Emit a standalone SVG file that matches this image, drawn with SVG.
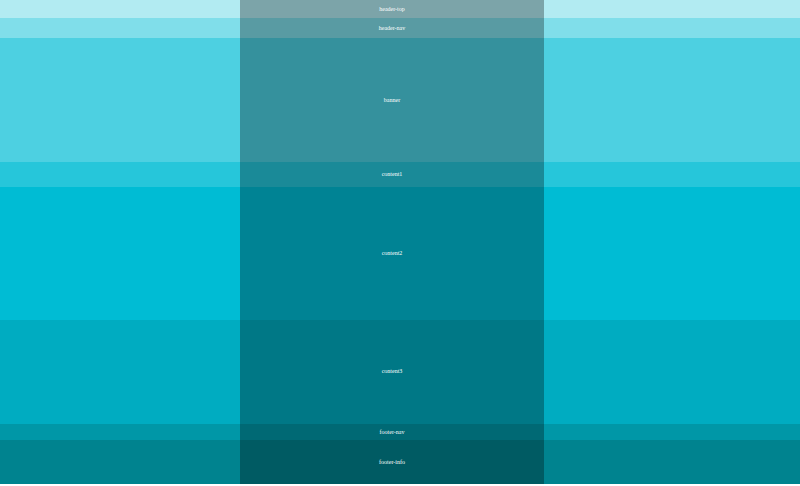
<svg xmlns="http://www.w3.org/2000/svg" width="800" height="486" viewBox="0 0 800 486">
<style>
.col{fill:#000;fill-opacity:0.3}
.lbl{font-family:"Liberation Serif",serif;font-size:6px;fill:#fff;text-anchor:middle;dominant-baseline:central}
</style>
<rect width="800" height="486" fill="#ffffff"/>
<g id="header-top"><rect x="0" y="0" width="800" height="18" fill="#b2ebf2"/><rect class="col" x="240" y="0" width="304" height="18"/><text class="lbl" x="392" y="9">header-top</text></g>
<g id="header-nav"><rect x="0" y="18" width="800" height="20" fill="#80deea"/><rect class="col" x="240" y="18" width="304" height="20"/><text class="lbl" x="392" y="28">header-nav</text></g>
<g id="banner"><rect x="0" y="38" width="800" height="124" fill="#4dd0e1"/><rect class="col" x="240" y="38" width="304" height="124"/><text class="lbl" x="392" y="100">banner</text></g>
<g id="content1"><rect x="0" y="162" width="800" height="25" fill="#26c6da"/><rect class="col" x="240" y="162" width="304" height="25"/><text class="lbl" x="392" y="174">content1</text></g>
<g id="content2"><rect x="0" y="187" width="800" height="133" fill="#00bcd4"/><rect class="col" x="240" y="187" width="304" height="133"/><text class="lbl" x="392" y="253">content2</text></g>
<g id="content3"><rect x="0" y="320" width="800" height="104" fill="#00acc1"/><rect class="col" x="240" y="320" width="304" height="104"/><text class="lbl" x="392" y="371">content3</text></g>
<g id="footer-nav"><rect x="0" y="424" width="800" height="16" fill="#0097a7"/><rect class="col" x="240" y="424" width="304" height="16"/><text class="lbl" x="392" y="432">footer-nav</text></g>
<g id="footer-info"><rect x="0" y="440" width="800" height="44" fill="#00838f"/><rect class="col" x="240" y="440" width="304" height="44"/><text class="lbl" x="392" y="462">footer-info</text></g>
<g id="connectors"></g>
</svg>
